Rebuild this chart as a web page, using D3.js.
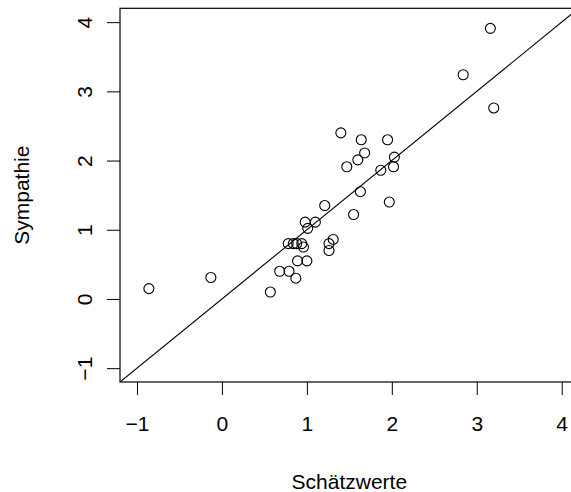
<!DOCTYPE html>
<html>
<head>
<meta charset="utf-8">
<script src="https://cdn.jsdelivr.net/npm/d3@7"></script>
<style>
    body { margin: 0; background: #fff; }
    svg text { font-family: "Liberation Sans", Arial, sans-serif; fill: #000; }
</style>
</head>
<body>
<div id="chart"></div>
<script>

    // values
var schaetzwerte = [-0.86, -0.13, 0.98, 1.10, 1.01, 0.78, 0.84, 0.88, 0.94, 0.96,
                    1.31, 1.26, 1.26, 0.89, 1.00, 0.68, 0.79, 0.87, 0.57, 1.40,
                    1.64, 1.95, 1.68, 1.60, 1.47, 2.03, 1.87, 2.02, 1.63, 1.97,
                    1.21, 1.55, 3.16, 2.84, 3.20];
var sympathie = [0.15, 0.31, 1.11, 1.11, 1.02, 0.80, 0.80, 0.80, 0.80, 0.75,
                 0.86, 0.80, 0.70, 0.55, 0.55, 0.40, 0.40, 0.30, 0.10, 2.40,
                 2.30, 2.30, 2.11, 2.01, 1.91, 2.05, 1.86, 1.91, 1.55, 1.40,
                 1.35, 1.22, 3.91, 3.24, 2.76];
var xTicks = [-1, 0, 1, 2, 3, 4];
var yTicks = [-1, 0, 1, 2, 3, 4];
var xLabel = "Schätzwerte";
var yLabel = "Sympathie";

var width = 571;
var height = 492;
var box = {left: 120, right: 578.7, top: 8.3, bottom: 382};
var fontSize = 21;

var svg = d3.select("#chart").append("svg")
    .attr("width", width)
    .attr("height", height);

var x = d3.scaleLinear().domain([-1.2, 4.2]).range([box.left, box.right]);
var y = d3.scaleLinear().domain([-1.2, 4.2]).range([box.bottom, box.top]);

function minusFormat(d) {
    return d < 0 ? "\u2212" + Math.abs(d) : d;
}

    // x axis, ticks only (the box draws the line)
var xAxis = svg.append("g")
    .attr("transform", "translate(0," + box.bottom + ")")
    .call(d3.axisBottom(x).tickValues(xTicks).tickSize(13).tickPadding(21)
        .tickFormat(minusFormat));
xAxis.select(".domain").remove();
xAxis.selectAll("line").attr("stroke", "#000").attr("stroke-width", 1);
xAxis.selectAll("text").attr("font-size", fontSize)
    .style("font-family", "Liberation Sans, Arial, sans-serif");

    // y axis, labels turned like in R (las = 0)
var yAxis = svg.append("g")
    .attr("transform", "translate(" + box.left + ",0)")
    .call(d3.axisLeft(y).tickValues(yTicks).tickSize(13).tickPadding(0)
        .tickFormat(minusFormat));
yAxis.select(".domain").remove();
yAxis.selectAll("line").attr("stroke", "#000").attr("stroke-width", 1);
yAxis.selectAll("text")
    .attr("font-size", fontSize)
    .style("font-family", "Liberation Sans, Arial, sans-serif")
    .attr("x", null)
    .attr("dy", null)
    .attr("text-anchor", "middle")
    .attr("transform", "translate(-34,0) rotate(-90)")
    .attr("dominant-baseline", "middle");

    // plot box
svg.append("rect")
    .attr("x", box.left)
    .attr("y", box.top)
    .attr("width", box.right - box.left)
    .attr("height", box.bottom - box.top)
    .attr("fill", "none")
    .attr("stroke", "#000")
    .attr("stroke-width", 1.2);

    // clip for the diagonal line
svg.append("defs").append("clipPath").attr("id", "plotclip")
    .append("rect")
    .attr("x", box.left).attr("y", box.top)
    .attr("width", box.right - box.left).attr("height", box.bottom - box.top);

    // y = x reference line
svg.append("line")
    .attr("clip-path", "url(#plotclip)")
    .attr("x1", x(-1.2)).attr("y1", y(-1.2))
    .attr("x2", x(4.2)).attr("y2", y(4.2))
    .attr("stroke", "#000")
    .attr("stroke-width", 1.1);

    // points
svg.append("g").selectAll("circle")
    .data(schaetzwerte)
    .enter().append("circle")
    .attr("cx", function (d) { return x(d); })
    .attr("cy", function (d, i) { return y(sympathie[i]); })
    .attr("r", 5)
    .attr("fill", "none")
    .attr("stroke", "#000")
    .attr("stroke-width", 1.1);

    // axis titles
svg.append("text")
    .attr("x", (box.left + box.right) / 2)
    .attr("y", 483)
    .attr("text-anchor", "middle")
    .attr("dominant-baseline", "middle")
    .attr("font-size", fontSize)
    .text(xLabel);

svg.append("text")
    .attr("transform", "translate(23," + ((box.top + box.bottom) / 2) + ") rotate(-90)")
    .attr("text-anchor", "middle")
    .attr("dominant-baseline", "middle")
    .attr("font-size", fontSize)
    .text(yLabel);

</script>
</body>
</html>
